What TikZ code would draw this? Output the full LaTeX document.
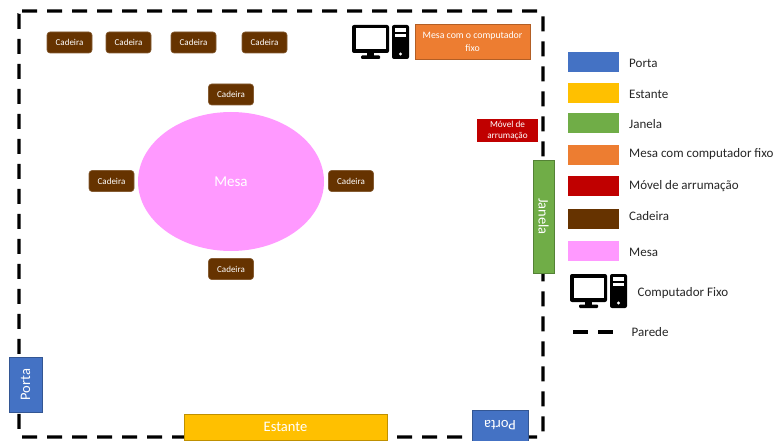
\documentclass[tikz,border=0pt]{standalone}
\usepackage{fontspec}
\setmainfont{Carlito}
\usetikzlibrary{positioning, shapes.geometric}
\definecolor{doorBlue}{HTML}{4472C4}
\definecolor{shelfYellow}{HTML}{FFC000}
\definecolor{windowGreen}{HTML}{70AD47}
\definecolor{deskOrange}{HTML}{ED7D31}
\definecolor{unitRed}{HTML}{C00000}
\definecolor{chairBrown}{HTML}{663300}
\definecolor{tablePink}{HTML}{FF99FF}
\tikzset{
    item/.style={draw=#1!75!black, fill=#1, line width=0.6pt, text=white, inner sep=0pt, align=center, font=\fontsize{14.5}{16}\selectfont},
    chair/.style={draw=chairBrown!80!white, fill=chairBrown, rounded corners=3pt, line width=0.6pt, text=white, minimum width=45pt, minimum height=21pt, inner sep=0pt, font=\fontsize{9}{10}\selectfont},
    swatch/.style={fill=#1, minimum width=51pt, minimum height=20pt, inner sep=0pt},
    legendtext/.style={anchor=west, inner sep=0pt, text=black!85, font=\fontsize{13}{15}\selectfont},
    wall/.style={line width=3.4pt, dash pattern=on 15pt off 10pt},
    computer/.pic={
        \fill[black, rounded corners=2pt] (0,0) rectangle (37,28);
        \fill[white] (3.5,3.5) rectangle (33.5,24);
        \fill[black] (15,28) rectangle (22,31);
        \fill[black, rounded corners=1pt] (9,30.5) rectangle (28,34);
        \fill[black, rounded corners=2pt] (40,0) rectangle (57,34);
        \fill[white] (43,3) rectangle (54,7);
        \fill[white] (43,9) rectangle (54,12);
        \fill[white] (48.5,29) circle (1.7);
    }
}
\begin{document}
\begin{tikzpicture}[x=1pt, y=-1pt]
    \useasboundingbox (0,0) rectangle (776,441);

    % walls
    \draw[wall, rounded corners=3pt] (19,11)--(543,11)--(543,437)--(19,437)--cycle;

    % round table and chairs
    \node[ellipse, fill=tablePink, minimum width=186pt, minimum height=139pt, inner sep=0pt, text=white, font=\fontsize{15}{17}\selectfont] (mesa) at (231,181.5) {Mesa};
    \node[chair] (cadeiraN) at (231,94.5) {Cadeira};
    \node[chair] (cadeiraW) at (111.5,181) {Cadeira};
    \node[chair] (cadeiraE) at (351,181) {Cadeira};
    \node[chair] (cadeiraS) at (231,269) {Cadeira};

    % spare chairs
    \node[chair] (cadeiraA) at (69.5,42.5) {Cadeira};
    \node[chair] (cadeiraB) at (128.5,42.5) {Cadeira};
    \node[chair] (cadeiraC) at (193.5,42.5) {Cadeira};
    \node[chair] (cadeiraD) at (264.5,42.5) {Cadeira};

    % furniture along the walls
    \pic at (352,25) {computer};
    \node[item=deskOrange, minimum width=115pt, minimum height=35pt, font=\fontsize{9.8}{13}\selectfont] (mesaPC) at (472.5,41.5) {Mesa com o computador\\fixo};
    \node[item=unitRed, draw=none, minimum width=61pt, minimum height=23pt, font=\fontsize{9.2}{11.5}\selectfont] (movel) at (507.5,130.5) {Móvel de\\arrumação};
    \node[item=windowGreen, minimum width=113pt, minimum height=21pt, rotate=-90] (janela) at (543.5,216.5) {Janela};
    \node[item=doorBlue, minimum width=55pt, minimum height=33pt, rotate=90] (portaL) at (25.5,384.5) {Porta};
    \node[item=doorBlue, minimum width=56pt, minimum height=31pt, rotate=180] (portaR) at (500,425.5) {Porta};
    \node[item=shelfYellow, minimum width=203pt, minimum height=26pt] (estante) at (285.5,427) {Estante};

    % legend
    \node[swatch=doorBlue] (swatchA) at (593.5,62) {};
    \node[swatch=shelfYellow] (swatchB) at (593.5,93) {};
    \node[swatch=windowGreen] (swatchC) at (593.5,123.5) {};
    \node[swatch=deskOrange] (swatchD) at (593.5,155) {};
    \node[swatch=unitRed] (swatchE) at (593.5,186) {};
    \node[swatch=chairBrown] (swatchF) at (593.5,219) {};
    \node[swatch=tablePink] (swatchG) at (593.5,251) {};
    \node[legendtext] (textA) at (629,63.5) {Porta};
    \node[legendtext] (textB) at (629,94) {Estante};
    \node[legendtext] (textC) at (629,124.5) {Janela};
    \node[legendtext] (textD) at (629,154.5) {Mesa com computador fixo};
    \node[legendtext] (textE) at (629,186.5) {Móvel de arrumação};
    \node[legendtext] (textF) at (629,216) {Cadeira};
    \node[legendtext] (textG) at (629,252.5) {Mesa};
    \pic at (570,274) {computer};
    \node[legendtext] (textH) at (637.5,293.5) {Computador Fixo};
    \coordinate (paredeA) at (573,332);
    \coordinate (paredeB) at (613,332);
    \draw[wall] (paredeA)--(paredeB);
    \node[legendtext] (textI) at (631.5,332) {Parede};
\end{tikzpicture}
\end{document}
